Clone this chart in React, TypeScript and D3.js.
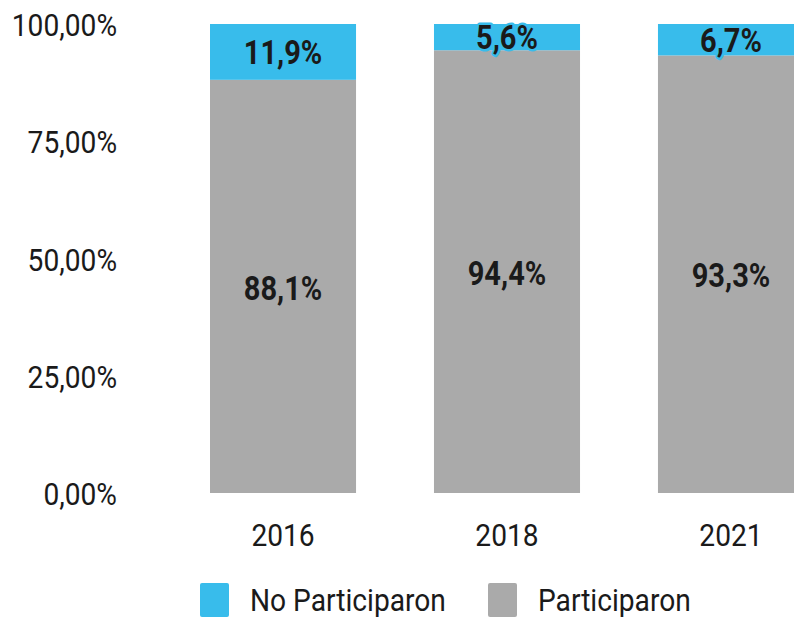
import React from "react";
import * as d3 from "d3";

const years = ["2016", "2018", "2021"];
const participaron = [88.1, 94.4, 93.3];
const noParticiparon = [11.9, 5.6, 6.7];
const yTicks = [0, 25, 50, 75, 100];
const seriesNames = ["No Participaron", "Participaron"];
const colors = ["#38BCEB", "#AAAAAA"];

const W = 794;
const H = 622;
const SX = 0.88;
const font = "Roboto, 'Noto Sans', sans-serif";

function CText(props: { x: number; y: number; anchor?: string; size: number; weight?: number; children: any; halo?: string }) {
  const { x, y, anchor = "middle", size, weight = 400, children, halo } = props;
  return (
    <g transform={`translate(${x},${y}) scale(${SX},1)`}>
      {halo && (
        <text textAnchor={anchor} fontSize={size} fontWeight={weight} fontFamily={font} dominantBaseline="central"
          stroke={halo} strokeWidth={5} strokeLinejoin="round" fill={halo}>{children}</text>
      )}
      <text textAnchor={anchor} fontSize={size} fontWeight={weight} fontFamily={font} dominantBaseline="central" fill="#1a1a1a">{children}</text>
    </g>
  );
}

export default function App() {
  const y = d3.scaleLinear().domain([0, 100]).range([493, 24]);
  const x = d3.scaleBand().domain(years).range([210, 804]).paddingInner(0.348).paddingOuter(0);
  const bw = x.bandwidth();
  const fmt = (v: number) => v.toFixed(2).replace(".", ",") + "%";
  const fmt1 = (v: number) => v.toFixed(1).replace(".", ",") + "%";

  return (
    <svg width={W} height={H} style={{ position: "absolute", left: 0, top: 0, background: "#fff" }}>
      {yTicks.map((t) => (
        <CText key={t} x={117} y={y(t) + 1} anchor="end" size={32}>{fmt(t)}</CText>
      ))}
      {years.map((yr, i) => {
        const x0 = x(yr)!;
        const p = participaron[i];
        const n = noParticiparon[i];
        return (
          <g key={yr}>
            <rect x={x0} y={y(p)} width={bw} height={y(0) - y(p)} fill={colors[1]} />
            <rect x={x0} y={y(p + n)} width={bw} height={y(p) - y(p + n)} fill={colors[0]} />
            <CText x={x0 + bw / 2} y={(y(0) + y(p)) / 2 + 2} size={33} weight={700}>{fmt1(p)}</CText>
            <CText x={x0 + bw / 2} y={(y(p) + y(p + n)) / 2 + 1} size={33} weight={700} halo={colors[0]}>{fmt1(n)}</CText>
            <CText x={x0 + bw / 2} y={535} size={32}>{yr}</CText>
          </g>
        );
      })}
      {seriesNames.map((s, i) => {
        const lx = [200, 488][i];
        return (
          <g key={s}>
            <rect x={lx} y={583} width={29} height={34} rx={2} fill={colors[i]} />
            <CText x={lx + 50} y={600} anchor="start" size={32}>{s}</CText>
          </g>
        );
      })}
    </svg>
  );
}
